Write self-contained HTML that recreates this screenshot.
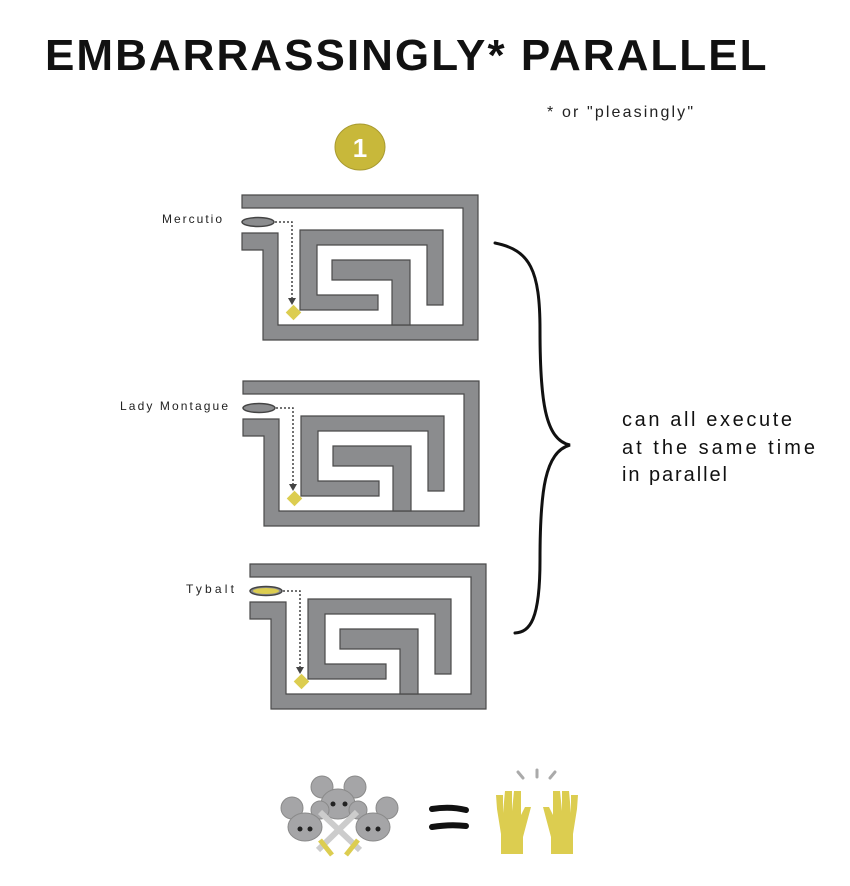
<!DOCTYPE html>
<html><head><meta charset="utf-8"><style>
html,body{margin:0;padding:0;background:#fff;width:850px;height:886px;overflow:hidden}
</style></head><body>
<svg width="850" height="886" viewBox="0 0 850 886" xmlns="http://www.w3.org/2000/svg">
<defs>
<g id="maze">
 <g fill="#8b8c8e" stroke="#4a4a4a" stroke-width="1.2">
  <path d="M242,195 H478 V340 H263 V250 H242 V233 H278 V325 H463 V208 H242 Z"/>
  <path d="M300,230 H443 V305 H427 V245 H317 V295 H378 V310 H300 Z"/>
  <path d="M332,260 H410 V325 H392 V280 H332 Z"/>
 </g>
 <ellipse cx="258" cy="222" rx="16" ry="4.5" fill="#8b8c8e" stroke="#444" stroke-width="1.5"/>
 <path d="M275,222 H292 V300" fill="none" stroke="#444" stroke-width="1.5" stroke-dasharray="2,2"/>
 <path d="M288,298 L296,298 L292,305 Z" fill="#444"/>
 <rect x="288" y="307" width="11" height="11" fill="#dccd50" transform="rotate(45 293.5 312.5)"/>
</g>
</defs>
<text x="45" y="70" font-family="Liberation Sans, sans-serif" font-weight="bold" font-size="44" letter-spacing="3.5" fill="#111" textLength="725">EMBARRASSINGLY* PARALLEL</text>
<text x="547" y="117" font-family="Liberation Sans, sans-serif" font-size="16" fill="#222" textLength="146">* or "pleasingly"</text>
<ellipse cx="360" cy="147" rx="25" ry="23" fill="#c8b83a" stroke="#a89a30"/>
<text x="360" y="157" text-anchor="middle" font-family="Liberation Sans, sans-serif" font-weight="bold" font-size="26" fill="#fff">1</text>

<use href="#maze"/>
<use href="#maze" transform="translate(1,186)"/>
<use href="#maze" transform="translate(8,369)"/>
<ellipse cx="266" cy="591" rx="13" ry="3" fill="#dccd50"/>

<text x="162" y="223" font-family="Liberation Sans, sans-serif" font-size="12" fill="#222" textLength="60">Mercutio</text>
<text x="120" y="410" font-family="Liberation Sans, sans-serif" font-size="12" fill="#222" textLength="108">Lady Montague</text>
<text x="186" y="593" font-family="Liberation Sans, sans-serif" font-size="12" fill="#222" textLength="48">Tybalt</text>

<path d="M495,243 C530,250 540,270 540,330 C540,400 545,440 570,445 C545,452 540,490 540,560 C540,620 530,632 515,633" fill="none" stroke="#111" stroke-width="3" stroke-linecap="round"/>
<g font-family="Liberation Sans, sans-serif" font-size="20" fill="#111">
<text x="622" y="426" textLength="170">can all execute</text>
<text x="622" y="454" textLength="193">at the same time</text>
<text x="622" y="481" textLength="105">in parallel</text>
</g>

<!-- mice -->
<g fill="#a5a5a7" stroke="#8a8a8a">
 <circle cx="322" cy="787" r="11"/><circle cx="355" cy="787" r="11"/>
 <ellipse cx="338" cy="804" rx="17" ry="15"/>
 <circle cx="292" cy="808" r="11"/><circle cx="320" cy="810" r="9"/>
 <ellipse cx="305" cy="827" rx="17" ry="14"/>
 <circle cx="358" cy="810" r="9"/><circle cx="387" cy="808" r="11"/>
 <ellipse cx="373" cy="827" rx="17" ry="14"/>
</g>
<path d="M320,812 L360,850 M357,812 L318,850" stroke="#ccc" stroke-width="6"/>
<path d="M320,840 L332,855 M358,840 L346,855" stroke="#dccd50" stroke-width="5"/>
<g fill="#222"><circle cx="333" cy="804" r="2.5"/><circle cx="345" cy="804" r="2.5"/><circle cx="300" cy="829" r="2.5"/><circle cx="310" cy="829" r="2.5"/><circle cx="368" cy="829" r="2.5"/><circle cx="378" cy="829" r="2.5"/></g>
<!-- equals -->
<path d="M432,809 Q450,806 466,810 M432,827 Q450,824 466,826" stroke="#111" stroke-width="6" stroke-linecap="round" fill="none"/>
<!-- hands -->
<g fill="#dccd50">
 <path d="M496,795 h7 v18 l2,-22 h7 v20 l2,-20 h7 v24 l4,-8 h6 l-8,30 v17 h-22 v-20 l-4,-25 z"/>
 <path d="M578,795 h-7 v18 l-2,-22 h-7 v20 l-2,-20 h-7 v24 l-4,-8 h-6 l8,30 v17 h22 v-20 l4,-25 z"/>
</g>
<path d="M518,772 l5,6 M537,770 v7 M555,772 l-5,6" stroke="#aaa" stroke-width="3" stroke-linecap="round"/>
</svg>
</body></html>
